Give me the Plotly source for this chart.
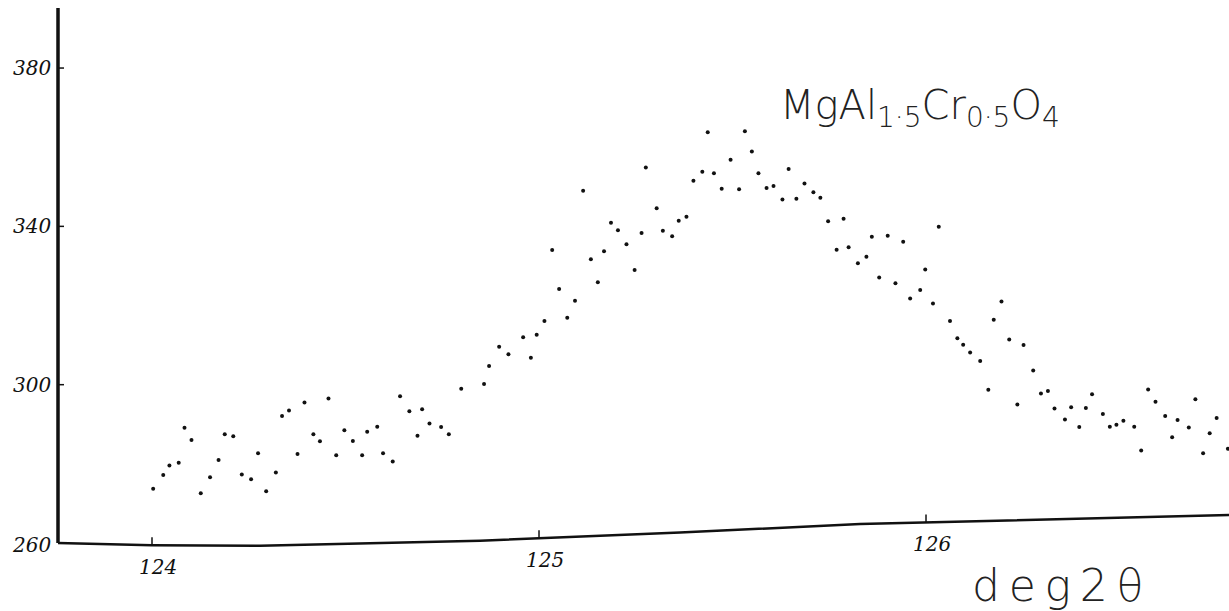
import numpy as np
import plotly.graph_objects as go

# Diffraction scan: intensity (counts) versus 2-theta (degrees)
two_theta = [
    124.003, 124.029, 124.045, 124.069, 124.084, 124.102, 124.126, 124.150, 124.172, 124.188,
    124.210, 124.232, 124.256, 124.274, 124.295, 124.320, 124.336, 124.354, 124.376, 124.394,
    124.417, 124.434, 124.456, 124.476, 124.497, 124.519, 124.543, 124.556, 124.582, 124.597,
    124.622, 124.641, 124.665, 124.686, 124.698, 124.717, 124.747, 124.767, 124.799, 124.858,
    124.871, 124.897, 124.921, 124.959, 124.979, 124.994, 125.014, 125.034, 125.052, 125.073,
    125.093, 125.114, 125.134, 125.152, 125.168, 125.186, 125.204, 125.226, 125.247, 125.265,
    125.276, 125.304, 125.320, 125.344, 125.361, 125.381, 125.399, 125.422, 125.436, 125.452,
    125.472, 125.495, 125.517, 125.532, 125.550, 125.567, 125.588, 125.606, 125.629, 125.645,
    125.665, 125.686, 125.709, 125.727, 125.747, 125.769, 125.787, 125.800, 125.824, 125.846,
    125.860, 125.879, 125.901, 125.921, 125.941, 125.959, 125.985, 125.998, 126.018, 126.033,
    126.062, 126.081, 126.096, 126.114, 126.140, 126.161, 126.175, 126.195, 126.215, 126.236,
    126.252, 126.277, 126.297, 126.315, 126.332, 126.359, 126.375, 126.396, 126.413, 126.429,
    126.457, 126.475, 126.492, 126.510, 126.538, 126.556, 126.574, 126.593, 126.618, 126.636,
    126.650, 126.679, 126.696, 126.716, 126.733, 126.751, 126.780,
]
counts = [
    273.7, 277.2, 279.6, 280.3, 289.1, 286.0, 272.6, 276.6, 281.0, 287.5,
    287.0, 277.3, 276.1, 282.7, 273.1, 277.8, 292.1, 293.5, 282.5, 295.5,
    287.5, 285.7, 296.5, 282.2, 288.5, 285.8, 282.2, 288.1, 289.4, 282.7,
    280.6, 297.1, 293.3, 287.1, 293.8, 290.2, 289.3, 287.5, 299.0, 300.2,
    304.7, 309.6, 307.7, 312.0, 306.8, 312.6, 316.1, 334.0, 324.2, 316.9,
    321.2, 349.0, 331.7, 325.9, 333.7, 340.9, 339.0, 335.5, 329.0, 338.3,
    354.9, 344.6, 338.9, 337.5, 341.4, 342.4, 351.5, 353.8, 363.8, 353.4,
    349.5, 356.8, 349.4, 364.0, 358.9, 353.4, 349.7, 350.2, 346.8, 354.5,
    347.0, 350.8, 348.6, 347.2, 341.3, 334.1, 341.9, 334.7, 330.7, 332.3,
    337.4, 327.1, 337.6, 325.6, 336.1, 321.8, 323.9, 329.1, 320.5, 339.9,
    316.1, 311.7, 310.1, 308.1, 306.0, 298.7, 316.4, 321.0, 311.4, 295.0,
    310.0, 303.6, 297.8, 298.4, 294.0, 291.2, 294.3, 289.3, 294.1, 297.6,
    292.6, 289.4, 289.9, 290.9, 289.4, 283.4, 298.8, 295.7, 292.1, 286.7,
    291.1, 289.2, 296.3, 282.7, 287.7, 291.6, 283.8,
]

x_ticks = [124, 125, 126]
x_tick_text = ["124", "125", "126"]
y_ticks = [260, 300, 340, 380]
y_tick_text = ["260", "300", "340", "380"]

W, H = 1229, 611
L, B = 58, 68
plot_w, plot_h = W - L, H - B

x_range = [123.7571, 126.7829]
y_range = [260.0, 397.19]

# Hand-ruled baseline: gently bowed, rising to the right (pixel positions)
base_px = [58, 152, 260, 480, 680, 860, 1229]
base_py = [543, 545.3, 545.8, 540.8, 532.5, 524.0, 515.0]
base_xp = [(p - L) / plot_w for p in base_px]
base_yp = [(plot_h - p) / plot_h for p in base_py]


def to_paper_x(val):
    return (val - x_range[0]) / (x_range[1] - x_range[0])


fig = go.Figure()
fig.add_trace(go.Scatter(
    x=two_theta, y=counts, mode="markers",
    marker=dict(size=4, color="#111111"),
    cliponaxis=False, hoverinfo="x+y",
))

shapes = []
# y axis line
shapes.append(dict(type="line", xref="paper", yref="paper", x0=0, x1=0,
                   y0=0, y1=(plot_h - 8) / plot_h,
                   line=dict(color="#111111", width=3.5)))
# x axis line
path = "M " + " L ".join(f"{a:.4f},{b:.4f}" for a, b in zip(base_xp, base_yp))
shapes.append(dict(type="path", xref="paper", yref="paper", path=path,
                   line=dict(color="#111111", width=2.5)))
# x tick marks sitting on the ruled baseline
for t in x_ticks:
    px = to_paper_x(t)
    by = float(np.interp(px, base_xp, base_yp))
    shapes.append(dict(type="line", xref="x", yref="paper", x0=t, x1=t,
                       y0=by, y1=by + 8 / plot_h,
                       line=dict(color="#111111", width=1.5)))
# y tick marks pointing into the plot
for t in y_ticks[1:]:
    shapes.append(dict(type="line", xref="paper", yref="y", x0=0, x1=6 / plot_w,
                       y0=t, y1=t, line=dict(color="#111111", width=1.5)))

annotations = []
hand_font = dict(family="DejaVu Serif", size=20, color="#111111", style="italic")
for t, s in zip(y_ticks, y_tick_text):
    annotations.append(dict(xref="paper", yref="y", x=-5 / plot_w, y=t, text=s,
                            showarrow=False, xanchor="right", yanchor="middle",
                            font=hand_font, yshift=-2 if t == 260 else 0))
for t, s in zip(x_ticks, x_tick_text):
    px = to_paper_x(t)
    by = float(np.interp(px, base_xp, base_yp))
    annotations.append(dict(xref="x", yref="paper", x=t, y=by, text=s,
                            showarrow=False, xanchor="center", yanchor="middle",
                            xshift=6, yshift=-22, font=hand_font))

annotations.append(dict(
    xref="paper", yref="paper", x=(778 - L) / plot_w, y=(plot_h - 108) / plot_h,
    text="MgAl<sub>1·5</sub>Cr<sub>0·5</sub>O<sub>4</sub>",
    showarrow=False, xanchor="left", yanchor="middle",
    font=dict(family="DejaVu Sans", size=40, color="#222222", weight=300)))
annotations.append(dict(
    xref="paper", yref="paper", x=(1057 - L) / plot_w, y=(plot_h - 585) / plot_h,
    text="d\u2009e\u2009g\u20092\u2009θ",
    showarrow=False, xanchor="center", yanchor="middle",
    font=dict(family="DejaVu Sans", size=44, color="#222222", weight=300)))

fig.update_layout(
    width=W, height=H,
    margin=dict(l=L, r=0, t=0, b=B),
    paper_bgcolor="white", plot_bgcolor="white",
    showlegend=False,
    xaxis=dict(range=x_range, visible=False, fixedrange=True),
    yaxis=dict(range=y_range, visible=False, fixedrange=True),
    shapes=shapes, annotations=annotations,
)

fig.write_html("out.html")
